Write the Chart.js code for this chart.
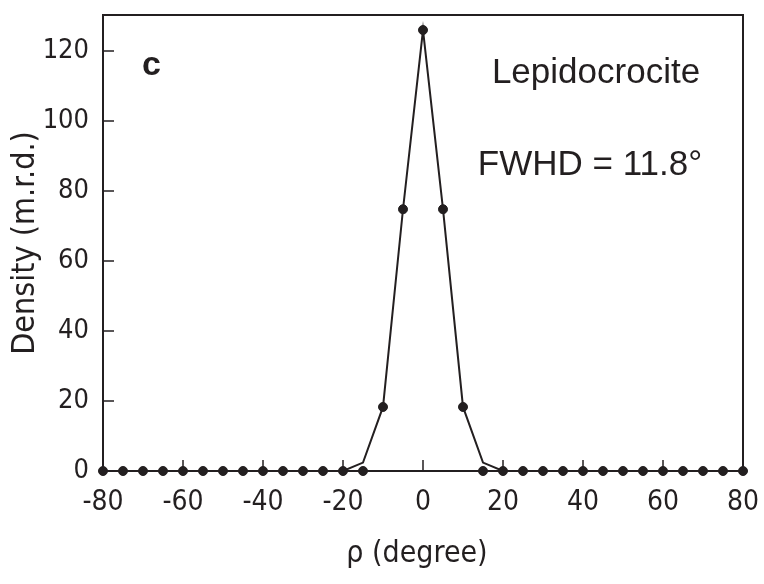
<!DOCTYPE html>
<html>
<head>
<meta charset="utf-8">
<script src="https://cdn.jsdelivr.net/npm/chart.js@4"></script>
<style>
  html, body { margin: 0; padding: 0; background: #fff; }
  #wrap { width: 764px; height: 584px; }
</style>
</head>
<body>
<div id="wrap"><canvas id="pfChart" width="764" height="584"></canvas></div>
<script>
// rho angle (degree) and pole density (m.r.d.)
const rho = [-80, -75, -70, -65, -60, -55, -50, -45, -40, -35, -30, -25, -20, -15, -10, -5,
             0, 5, 10, 15, 20, 25, 30, 35, 40, 45, 50, 55, 60, 65, 70, 75, 80];
// the drawn line (slight kink at +-15)
const lineDensity = [0, 0, 0, 0, 0, 0, 0, 0, 0, 0, 0, 0, 0, 2.4, 18.3, 74.8,
                     126, 74.8, 18.3, 2.4, 0, 0, 0, 0, 0, 0, 0, 0, 0, 0, 0, 0, 0];
// the dots
const markerDensity = [0, 0, 0, 0, 0, 0, 0, 0, 0, 0, 0, 0, 0, 0, 18.3, 74.8,
                       126, 74.8, 18.3, 0, 0, 0, 0, 0, 0, 0, 0, 0, 0, 0, 0, 0, 0];
const xTicks = [-80, -60, -40, -20, 0, 20, 40, 60, 80];
const yTicks = [0, 20, 40, 60, 80, 100, 120];

const panelLabel = "c";
const mineral = "Lepidocrocite";
const fwhd = "FWHD = 11.8°";
const xTitle = "ρ (degree)";
const yTitle = "Density (m.r.d.)";

const tickFont = "'DejaVu Sans Condensed', 'Liberation Sans Narrow', sans-serif";
const textFont = "'Liberation Sans', Arial, sans-serif";

// frame, inward ticks and texts
const decorPlugin = {
    id: 'decor',
    afterDraw(chart) {
        const ctx = chart.ctx;
        const a = chart.chartArea;
        const xs = chart.scales.x, ys = chart.scales.y;
        ctx.save();
        ctx.strokeStyle = '#231f20';
        ctx.lineWidth = 2;
        ctx.strokeRect(a.left, a.top, a.right - a.left, a.bottom - a.top);

        ctx.lineWidth = 1.5;
        ctx.beginPath();
        xTicks.forEach(v => {
            const px = xs.getPixelForValue(v);
            ctx.moveTo(px, a.bottom);
            ctx.lineTo(px, a.bottom - 11);
        });
        yTicks.forEach(v => {
            const py = ys.getPixelForValue(v);
            ctx.moveTo(a.left, py);
            ctx.lineTo(a.left + 11, py);
        });
        ctx.stroke();

        ctx.fillStyle = '#231f20';
        ctx.textBaseline = 'alphabetic';

        ctx.font = "bold 34px " + textFont;
        ctx.textAlign = 'left';
        ctx.fillText(panelLabel, 142, 75);

        ctx.font = "35px " + textFont;
        ctx.textAlign = 'center';
        ctx.fillText(mineral, 596, 83);
        ctx.fillText(fwhd, 590, 175);

        ctx.font = "30px " + tickFont;
        ctx.textBaseline = 'middle';
        ctx.fillText(xTitle, 417, 554);

        ctx.font = "32px " + tickFont;
        ctx.translate(26, 243);
        ctx.rotate(-Math.PI / 2);
        ctx.fillText(yTitle, 0, 0);
        ctx.restore();
    }
};

const ctx = document.getElementById('pfChart').getContext('2d');
const pfChart = new Chart(ctx, {
    type: 'line',
    data: {
        datasets: [{
            data: rho.map((r, i) => ({ x: r, y: lineDensity[i] })),
            borderColor: '#231f20',
            borderWidth: 2,
            pointRadius: 0,
            tension: 0
        }, {
            data: rho.map((r, i) => ({ x: r, y: markerDensity[i] })),
            showLine: false,
            pointRadius: 4.5,
            pointBackgroundColor: '#231f20',
            pointBorderColor: '#231f20'
        }]
    },
    options: {
        responsive: false,
        animation: false,
        clip: false,
        layout: { padding: { top: 15, right: 21, left: 0, bottom: 0 } },
        plugins: { legend: { display: false }, tooltip: { enabled: false } },
        scales: {
            x: {
                type: 'linear',
                min: -80,
                max: 80,
                grid: { drawOnChartArea: false, drawTicks: true, tickLength: 12, color: 'rgba(0,0,0,0)' },
                border: { display: false },
                afterBuildTicks: s => { s.ticks = xTicks.map(v => ({ value: v })); },
                afterFit: s => { s.height = 113; },
                ticks: {
                    color: '#231f20',
                    font: { size: 28, family: tickFont, lineHeight: 1.1 },
                    padding: 4
                }
            },
            y: {
                min: 0,
                max: 130.3,
                grid: { drawOnChartArea: false, drawTicks: true, tickLength: 14, color: 'rgba(0,0,0,0)' },
                border: { display: false },
                afterBuildTicks: s => { s.ticks = yTicks.map(v => ({ value: v })); },
                afterFit: s => { s.width = 103; },
                ticks: {
                    color: '#231f20',
                    font: { size: 27, family: tickFont, lineHeight: 1.1 },
                    padding: 0
                }
            }
        }
    },
    plugins: [decorPlugin]
});
</script>
</body>
</html>
